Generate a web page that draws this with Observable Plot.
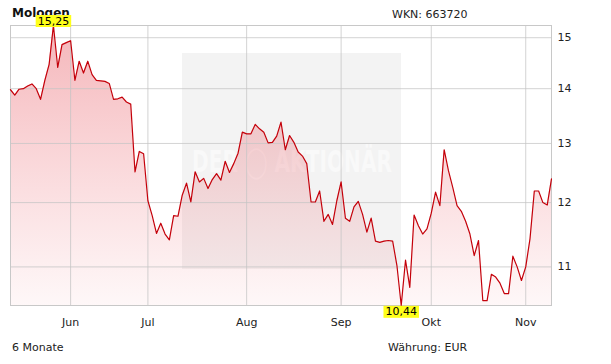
<!DOCTYPE html>
<html><head><meta charset="utf-8">
<script src="https://cdn.jsdelivr.net/npm/d3@7"></script>
<script src="https://cdn.jsdelivr.net/npm/@observablehq/plot@0.6"></script>
<style>
body{margin:0;background:#fff;font-family:"DejaVu Sans",Verdana,sans-serif;}
#wrap{position:relative;width:611px;height:364px;overflow:hidden;background:#fff}
#wmbox{position:absolute;left:182px;top:53px;width:219px;height:216px;background:#f3f3f3}
#chart{position:absolute;left:0;top:0}
.t{position:absolute;line-height:11px;font-size:11px;color:#222;white-space:nowrap}
#title{left:12px;top:7px;font-size:12px;line-height:12px;font-weight:bold;color:#111}
#wm{position:absolute;left:0;top:0;pointer-events:none}
</style></head><body>
<div id="wrap">
  <div id="wmbox"></div>
  <div class="t" id="title"></div>
  <div class="t" id="wkn" style="left:392px;top:9px"></div>
  <div class="t" id="period" style="left:12px;top:342px"></div>
  <div class="t" id="curr" style="left:388px;top:342px"></div>
  <svg id="wm" width="611" height="364"><text x="192" y="172" textLength="200" lengthAdjust="spacingAndGlyphs" font-family="DejaVu Sans" font-weight="bold" font-size="31" fill="#fff" fill-opacity="0.5">DER ◯ AKTIONÄR</text></svg>
  <div id="chart"></div>
</div>
<script>
const stockName = "Mologen";
const wknLabel = "WKN: 663720";
const periodLabel = "6 Monate";
const currencyLabel = "Währung: EUR";

// daily closing prices (EUR), one per trading day
const prices = [
  13.98, 13.88, 13.99, 14.00, 14.05, 14.09, 14.00, 13.80, 14.16, 14.47,
  15.25, 14.41, 14.86, 14.90, 14.94, 14.16, 14.53, 14.30, 14.53, 14.27,
  14.16, 14.15, 14.14, 14.10, 13.80, 13.81, 13.84, 13.75, 13.71, 12.51,
  12.86, 12.82, 12.03, 11.79, 11.51, 11.67, 11.50, 11.41, 11.79, 11.78,
  12.12, 12.32, 12.01, 12.51, 12.34, 12.40, 12.23, 12.38, 12.48, 12.37,
  12.69, 12.50, 12.65, 12.83, 13.20, 13.17, 13.17, 13.34, 13.26, 13.20,
  13.01, 13.02, 13.13, 13.38, 12.89, 13.14, 13.02, 12.85, 12.78, 12.65,
  12.01, 12.01, 12.19, 11.70, 11.81, 11.65, 12.03, 12.34, 11.75, 11.70,
  11.93, 12.02, 11.81, 11.53, 11.75, 11.39, 11.37, 11.39, 11.40, 11.39,
  11.02, 10.44, 11.10, 10.70, 11.80, 11.63, 11.50, 11.58, 11.83, 12.17,
  11.95, 12.89, 12.53, 12.25, 11.95, 11.86, 11.70, 11.50, 11.17, 11.40,
  10.51, 10.51, 10.89, 10.85, 10.76, 10.61, 10.61, 11.16, 11.00, 10.80,
  11.00, 11.43, 12.19, 12.19, 12.00, 11.96, 12.39
];
// trading-day index of the first trading day of each month
const monthTickDays = [14, 32, 55, 77, 98, 120];
const monthLabels = ["Jun", "Jul", "Aug", "Sep", "Okt", "Nov"];
const yTicks = [11, 12, 13, 14, 15];

document.getElementById("title").textContent = stockName;
document.getElementById("wkn").textContent = wknLabel;
document.getElementById("period").textContent = periodLabel;
document.getElementById("curr").textContent = currencyLabel;

const data = prices.map((p, i) => ({i, p}));
const [minP, maxP] = d3.extent(prices);
const maxPt = data.find(d => d.p === maxP);
const minPt = data.find(d => d.p === minP);
const fmt = v => v.toFixed(2).replace(".", ",");
const extremeLabels = [fmt(maxP), fmt(minP)];

const chart = Plot.plot({
  width: 611, height: 364,
  marginTop: 25, marginBottom: 59, marginLeft: 10, marginRight: 60,
  style: {background: "transparent", fontFamily: '"DejaVu Sans", Verdana, sans-serif', fontSize: "11px", color: "#222", overflow: "visible"},
  x: {domain: [0, prices.length - 1]},
  y: {type: "log", domain: [minP, maxP]},
  marks: [
    Plot.areaY(data, {x: "i", y1: () => minP, y2: "p", fill: "url(#areaGrad)"}),
    Plot.gridX(monthTickDays, {stroke: "#c4c4c4", strokeOpacity: 0.75}),
    Plot.gridY(yTicks, {stroke: "#c4c4c4", strokeOpacity: 0.75}),
    Plot.frame({stroke: "#c8c8c8"}),
    Plot.lineY(data, {x: "i", y: "p", stroke: "#c4000a", strokeWidth: 1.2}),
    Plot.axisX(monthTickDays, {tickSize: 0, tickPadding: 13, tickFormat: d => monthLabels[monthTickDays.indexOf(d)], label: null, fill: "#222"}),
    Plot.axisY(yTicks, {anchor: "right", tickSize: 0, tickPadding: 6, tickFormat: d => String(d), label: null, fill: "#222"}),
    Plot.text([maxPt], {x: "i", y: "p", text: d => fmt(d.p), lineAnchor: "bottom", dy: -1, fill: "#000", fontSize: 11}),
    Plot.text([minPt], {x: "i", y: "p", text: d => fmt(d.p), lineAnchor: "top", dy: 2, fill: "#000", fontSize: 11})
  ]
});
document.getElementById("chart").append(chart);

const NS = "http://www.w3.org/2000/svg";
const defs = document.createElementNS(NS, "defs");
defs.innerHTML = '<linearGradient id="areaGrad" x1="0" y1="0" x2="0" y2="1">' +
  '<stop offset="0" stop-color="#e6505a" stop-opacity="0.42"/>' +
  '<stop offset="1" stop-color="#ee6670" stop-opacity="0.05"/></linearGradient>';
chart.insertBefore(defs, chart.firstChild);

Array.from(chart.querySelectorAll("text")).forEach(t => {
  if (!extremeLabels.includes(t.textContent)) return;
  const b = t.getBBox();
  const r = document.createElementNS(NS, "rect");
  r.setAttribute("x", b.x - 2);
  r.setAttribute("y", b.y + 0.5);
  r.setAttribute("width", b.width + 4);
  r.setAttribute("height", b.height - 1);
  r.setAttribute("fill", "#ffff1a");
  if (t.getAttribute("transform")) r.setAttribute("transform", t.getAttribute("transform"));
  t.parentNode.insertBefore(r, t);
});
</script>
</body></html>
